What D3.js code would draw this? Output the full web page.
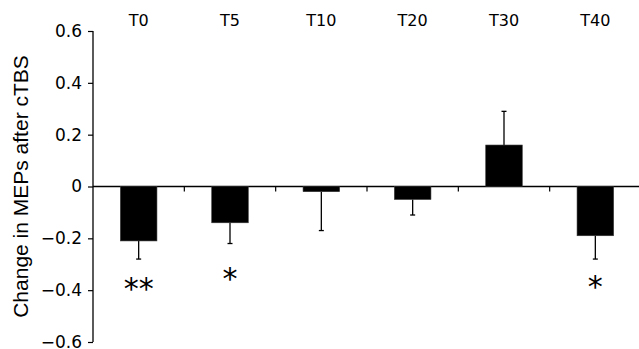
<!DOCTYPE html>
<html><head><meta charset="utf-8">
<script src="https://cdn.jsdelivr.net/npm/d3@7"></script>
<style>body{margin:0;background:#fff}svg{display:block}</style>
</head><body><svg id="c" width="639" height="349"></svg>
<script>
const categories = ["T0","T5","T10","T20","T30","T40"];
const values = [-0.21,-0.14,-0.02,-0.05,0.16,-0.19];
const errors = [0.07,0.08,0.15,0.06,0.13,0.09];
const stars = ["**","*","","","","*"];
const starLevels = [-0.378,-0.336,0,0,0,-0.37];
const yTicks = [0.6,0.4,0.2,0,-0.2,-0.4,-0.6];

const svg = d3.select("#c");
const x = d3.scaleBand().domain(categories).range([93,641]).padding(0);
const y = d3.scaleLinear().domain([-0.6,0.6]).range([342,31]);
const bw = x.bandwidth()*0.4;

// y axis
const ya = d3.axisLeft(y).tickValues(yTicks).tickSize(5).tickPadding(6)
  .tickFormat(d => d===0 ? "0" : d3.format(".1f")(d).replace("-","\u2212"));
const gy = svg.append("g").attr("transform","translate(93,0)").call(ya);
gy.select(".domain").attr("d",`M0,${y(0.6)}V${y(-0.6)}`).attr("stroke","#000").attr("stroke-width",1.3);
gy.selectAll("text").attr("font-family","DejaVu Sans").attr("font-size",17).attr("fill","#000");
gy.selectAll("line").attr("stroke","#000").attr("stroke-width",1.2);

// x axis line at zero
svg.append("line").attr("x1",93).attr("x2",641).attr("y1",y(0)).attr("y2",y(0))
  .attr("stroke","#000").attr("stroke-width",1.3);
svg.selectAll(".xt").data(categories.slice(1)).enter().append("line")
  .attr("x1",d=>x(d)).attr("x2",d=>x(d)).attr("y1",y(0)).attr("y2",y(0)+5)
  .attr("stroke","#000").attr("stroke-width",1.2);

// error bars
const tipOf = i => values[i]+Math.sign(values[i])*errors[i];
const eb = svg.selectAll(".eb").data(categories).enter().append("g");
eb.append("line")
  .attr("x1",d=>x(d)+x.bandwidth()/2).attr("x2",d=>x(d)+x.bandwidth()/2)
  .attr("y1",(d,i)=>y(values[i])).attr("y2",(d,i)=>y(tipOf(i)))
  .attr("stroke","#000").attr("stroke-width",1.3);
eb.append("line")
  .attr("x1",d=>x(d)+x.bandwidth()/2-2.5).attr("x2",d=>x(d)+x.bandwidth()/2+2.5)
  .attr("y1",(d,i)=>y(tipOf(i))).attr("y2",(d,i)=>y(tipOf(i)))
  .attr("stroke","#000").attr("stroke-width",1.3);

// bars
svg.selectAll(".bar").data(categories).enter().append("rect")
  .attr("x",d=>x(d)+x.bandwidth()/2-bw/2).attr("width",bw)
  .attr("y",(d,i)=>y(Math.max(0,values[i])))
  .attr("height",(d,i)=>Math.abs(y(values[i])-y(0)))
  .attr("fill","#000").attr("stroke","#333").attr("stroke-width",0.6);

// top labels
svg.selectAll(".cl").data(categories).enter().append("text")
  .attr("x",d=>x(d)+x.bandwidth()/2).attr("y",26)
  .attr("text-anchor","middle").attr("font-family","DejaVu Sans").attr("font-size",16)
  .text(d=>d);

// stars
svg.selectAll(".st").data(categories).enter().append("text")
  .attr("x",d=>x(d)+x.bandwidth()/2).attr("y",(d,i)=>y(starLevels[i])+15)
  .attr("text-anchor","middle").attr("font-family","DejaVu Sans").attr("font-size",30)
  .text((d,i)=>stars[i]);

// y label
svg.append("text").attr("transform",`translate(28,${y(0)}) rotate(-90)`)
  .attr("text-anchor","middle").attr("font-family","Liberation Sans").attr("font-size",21)
  .text("Change in MEPs after cTBS");
</script></body></html>
